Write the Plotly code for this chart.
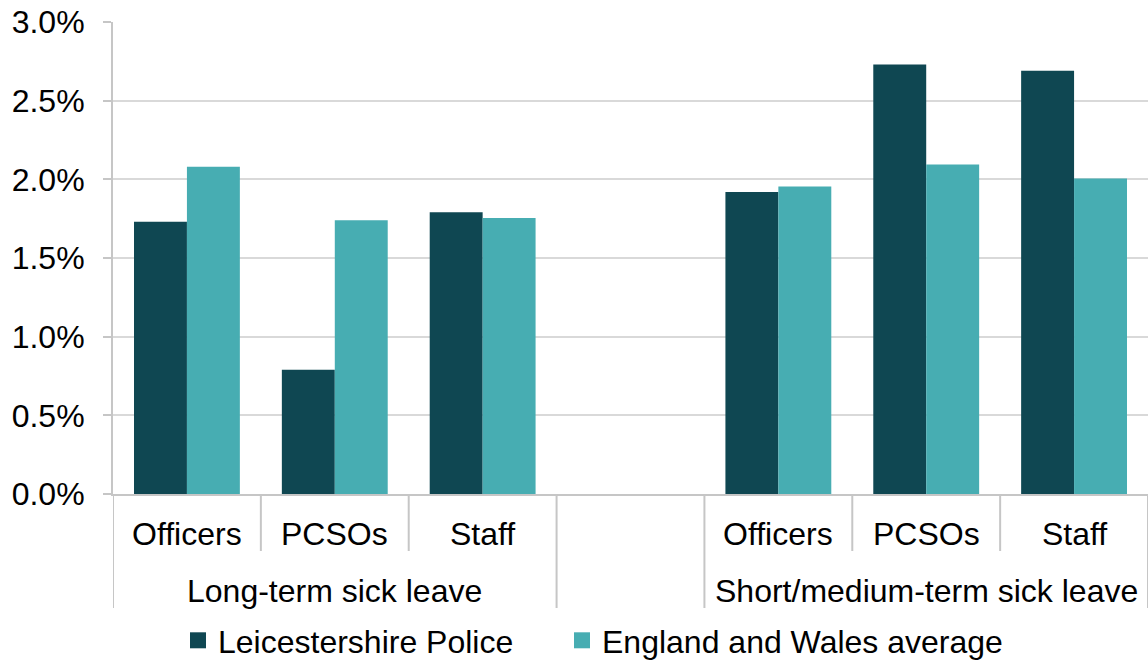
import plotly.graph_objects as go

categories = ["Officers", "PCSOs", "Staff", "", "Officers", "PCSOs", "Staff"]
groups = ["Long-term sick leave", "Short/medium-term sick leave"]
group_slots = [[0, 1, 2], [4, 5, 6]]
leics = [1.73, 0.79, 1.79, None, 1.92, 2.73, 2.69]
ew_avg = [2.08, 1.74, 1.755, None, 1.955, 2.095, 2.005]
series_names = ["Leicestershire Police", "England and Wales average"]
colors = ["#0F4752", "#47ADB2"]
ytick_vals = [0, 0.5, 1.0, 1.5, 2.0, 2.5, 3.0]
ytick_text = [f"{v:.1f}%" for v in ytick_vals]

FONT = "Liberation Sans, Arial, sans-serif"
FS = 32
xs = list(range(len(categories)))
legend_ids = ["legend", "legend2"]
legend_x = [178, 562]

fig = go.Figure()
for name, vals, col, lid in zip(series_names, [leics, ew_avg], colors, legend_ids):
    fig.add_trace(go.Bar(x=xs, y=vals, name=name, marker=dict(color=col, line=dict(width=0)),
                         showlegend=False))
    fig.add_trace(go.Scatter(x=[None], y=[None], mode="markers", name=name, legend=lid,
                             marker=dict(symbol="square", size=18, color=col)))

# category labels
for i, c in enumerate(categories):
    if c:
        fig.add_annotation(x=i, y=0, xref="x", yref="paper", text=c, showarrow=False,
                           yanchor="middle", yshift=-40, font=dict(size=FS, color="#000"))
for g, slots in zip(groups, group_slots):
    fig.add_annotation(x=sum(slots) / len(slots), y=0, xref="x", yref="paper", text=g,
                       showarrow=False, yanchor="middle", yshift=-97,
                       font=dict(size=FS, color="#000"))

PH = 472.0
short_b = [0.5, 1.5, 4.5, 5.5]
long_b = [-0.5, 2.5, 3.5, 6.5]
for b in short_b:
    fig.add_shape(type="line", xref="x", yref="paper", x0=b, x1=b, y0=0, y1=-57 / PH,
                  line=dict(color="#C6C6C6", width=2))
for b in long_b:
    fig.add_shape(type="line", xref="x", yref="paper", x0=b, x1=b, y0=0, y1=-114 / PH,
                  line=dict(color="#C6C6C6", width=2))

legend_common = dict(orientation="h", xref="container", xanchor="left",
                     yref="container", y=-8 / 668, yanchor="bottom",
                     font=dict(size=32), itemwidth=30, bgcolor="rgba(0,0,0,0)")

fig.update_layout(
    width=1148, height=668,
    margin=dict(l=113, r=0, t=22, b=174, autoexpand=False),
    paper_bgcolor="white", plot_bgcolor="white",
    font=dict(family=FONT, size=FS, color="#000"),
    barmode="group", bargap=0.284, bargroupgap=0,
    xaxis=dict(range=[-0.5, 6.5], showticklabels=False, ticks="", showgrid=False,
               zeroline=False, showline=True, linecolor="#C6C6C6", linewidth=2),
    yaxis=dict(range=[0, 3.0], tickvals=ytick_vals, ticktext=ytick_text,
               showgrid=True, gridcolor="#D9D9D9", gridwidth=1.5, zeroline=False,
               showline=True, linecolor="#C6C6C6", linewidth=2,
               ticks="outside", ticklen=8, tickcolor="#C6C6C6", tickwidth=2,
               ticklabelstandoff=12,
               tickfont=dict(size=FS, color="#000")),
    legend=dict(x=legend_x[0] / 1148, **legend_common),
    legend2=dict(x=legend_x[1] / 1148, **legend_common),
)

fig.write_html("out.html")
